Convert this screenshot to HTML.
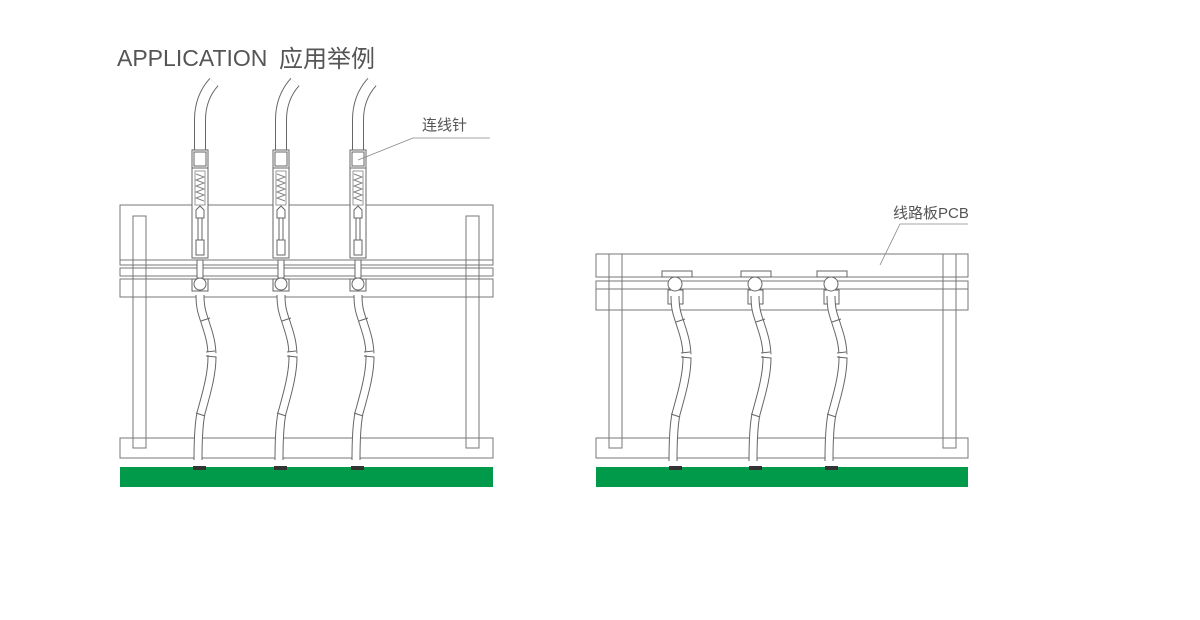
<!DOCTYPE html>
<html><head><meta charset="utf-8"><style>
body{margin:0;background:#fff;}
svg{display:block}
</style></head><body>
<svg width="1200" height="620" viewBox="0 0 1200 620" xmlns="http://www.w3.org/2000/svg" font-family="Liberation Sans, Noto Sans CJK SC, sans-serif">
<defs>
<g id="cable">
  <path d="M0,0 C0,15 3,20 6,30 C10,42 12,50 12,62 C12,80 6,100 1,118 C-1,128 -2,140 -2,165" fill="none" stroke="#666" stroke-width="9"/>
  <path d="M0,0 C0,15 3,20 6,30 C10,42 12,50 12,62 C12,80 6,100 1,118 C-1,128 -2,140 -2,165" fill="none" stroke="#fff" stroke-width="7"/>
  <line x1="1" y1="26" x2="10" y2="23" stroke="#666" stroke-width="1"/>
  <line x1="5" y1="58" x2="17" y2="60" stroke="#fff" stroke-width="3"/>
  <line x1="6" y1="57" x2="15" y2="56" stroke="#666" stroke-width="1"/>
  <line x1="6" y1="61" x2="16" y2="62" stroke="#666" stroke-width="1"/>
  <line x1="-4" y1="118" x2="5" y2="121" stroke="#666" stroke-width="1"/>
</g>
<g id="topcable">
  <path d="M0,0 L0,-30 C0,-45 5,-58 14,-68" fill="none" stroke="#666" stroke-width="12"/>
  <path d="M0,0 L0,-30 C0,-45 5,-58 14,-68" fill="none" stroke="#fff" stroke-width="10"/>
</g>
<g id="probe" fill="#fff" stroke="#666" stroke-width="1">
  <use href="#topcable" x="0" y="150"/>
  <rect x="-8" y="150" width="16" height="108"/>
  <rect x="-6" y="152" width="12" height="14"/>
  <line x1="-8" y1="168" x2="8" y2="168"/>
  <rect x="-5" y="171" width="10" height="34" stroke="#999"/>
  <path d="M-4,174 L4,177 L-4,180 L4,183 L-4,186 L4,189 L-4,192 L4,195 L-4,198 L4,201" fill="none" stroke="#888"/>
  <path d="M-4,210 L0,206 L4,210 L4,218 L-4,218 Z"/>
  <rect x="-2" y="218" width="4" height="22"/>
  <rect x="-4" y="240" width="8" height="15"/>
</g>
</defs>
<text x="117" y="66" font-size="23" fill="#555">APPLICATION</text>
<text x="279" y="67" font-size="24" fill="#555" font-family="Noto Sans CJK SC, sans-serif">应用举例</text>

<!-- LEFT assembly -->
<g fill="none" stroke="#777" stroke-width="1">
  <rect x="120" y="205" width="373" height="55" fill="#fff"/>
  <rect x="120" y="260" width="373" height="5"/>
  <rect x="120" y="268" width="373" height="8"/>
  <rect x="120" y="279" width="373" height="18"/>
  <rect x="120" y="438" width="373" height="20" fill="#fff"/>
  <rect x="133" y="216" width="13" height="232"/>
  <rect x="466" y="216" width="13" height="232"/>
</g>
<rect x="120" y="467" width="373" height="20" fill="#009a4a"/>
<g>
  <use href="#probe" x="200" y="0"/>
  <use href="#probe" x="281" y="0"/>
  <use href="#probe" x="358" y="0"/>
</g>
<g fill="#fff" stroke="#666" stroke-width="1">
  <rect x="192" y="279" width="16" height="12"/><rect x="273" y="279" width="16" height="12"/><rect x="350" y="279" width="16" height="12"/>
  <rect x="197" y="260" width="6" height="18"/><rect x="278" y="260" width="6" height="18"/><rect x="355" y="260" width="6" height="18"/>
  <circle cx="200" cy="284" r="6"/><circle cx="281" cy="284" r="6"/><circle cx="358" cy="284" r="6"/>
</g>
<use href="#cable" x="200" y="295"/>
<use href="#cable" x="281" y="295"/>
<use href="#cable" x="358" y="295"/>
<g fill="#333"><rect x="193" y="466" width="13" height="4"/><rect x="274" y="466" width="13" height="4"/><rect x="351" y="466" width="13" height="4"/></g>

<!-- RIGHT assembly -->
<g fill="none" stroke="#777" stroke-width="1">
  <rect x="596" y="254" width="372" height="23" fill="#fff"/>
  <rect x="596" y="281" width="372" height="8"/>
  <rect x="596" y="289" width="372" height="21"/>
  <rect x="596" y="438" width="372" height="20" fill="#fff"/>
  <rect x="609" y="254" width="13" height="194"/>
  <rect x="943" y="254" width="13" height="194"/>
</g>
<rect x="596" y="467" width="372" height="20" fill="#009a4a"/>
<g fill="#fff" stroke="#666" stroke-width="1">
  <rect x="662" y="271" width="30" height="6"/><rect x="741" y="271" width="30" height="6"/><rect x="817" y="271" width="30" height="6"/>
  <rect x="668" y="290" width="15" height="14"/><rect x="748" y="290" width="15" height="14"/><rect x="824" y="290" width="15" height="14"/>
  <circle cx="675" cy="284" r="7"/><circle cx="755" cy="284" r="7"/><circle cx="831" cy="284" r="7"/>
</g>
<use href="#cable" x="675" y="296"/>
<use href="#cable" x="755" y="296"/>
<use href="#cable" x="831" y="296"/>
<g fill="#333"><rect x="669" y="466" width="13" height="4"/><rect x="749" y="466" width="13" height="4"/><rect x="825" y="466" width="13" height="4"/></g>

<!-- labels -->
<text x="422" y="130" font-size="15" fill="#555">连线针</text>
<polyline points="490,138 413,138 358,160" fill="none" stroke="#888" stroke-width="0.8"/>
<text x="893" y="218" font-size="15" fill="#555">线路板PCB</text>
<polyline points="968,224 900,224 880,265" fill="none" stroke="#888" stroke-width="0.8"/>
</svg>
</body></html>
